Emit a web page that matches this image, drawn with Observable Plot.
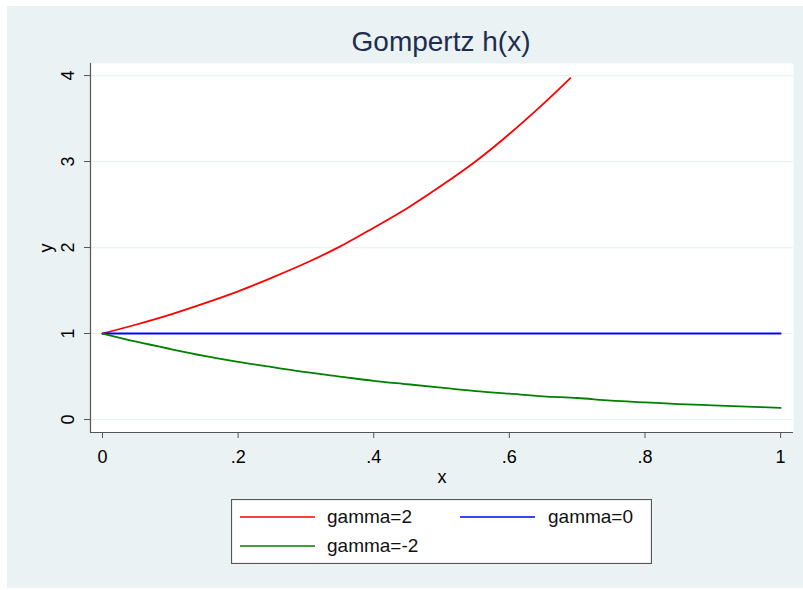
<!DOCTYPE html>
<html><head><meta charset="utf-8">
<script src="https://cdn.jsdelivr.net/npm/d3@7"></script>
<script src="https://cdn.jsdelivr.net/npm/@observablehq/plot@0.6"></script>
<style>
body{margin:0;width:803px;height:590px;background:#fff;position:relative;font-family:"Liberation Sans",Arial,sans-serif;overflow:hidden}
#bg{position:absolute;left:7px;top:6px;width:796px;height:582px;background:#eaf2f3}
#title{position:absolute;left:0;top:25px;width:882px;text-align:center;font-size:28px;color:#1e2d4e;line-height:34px}
#chart{position:absolute;left:0;top:0}
#legend{position:absolute;left:231px;top:499px}
</style></head>
<body>
<div id="bg"></div>
<div id="chart"></div>
<div id="title">Gompertz h(x)</div>
<div id="legend"></div>
<script>
// Data
const seriesNames = ["gamma=2", "gamma=0", "gamma=-2"];
const seriesColors = ["#ff0000", "#0000ff", "#008000"];
const xRed = [0, 0.05, 0.1, 0.15, 0.2, 0.25, 0.3, 0.35, 0.4, 0.45, 0.5, 0.55, 0.6, 0.65, 0.69];
const yRed = [1, 1.105, 1.22, 1.35, 1.49, 1.65, 1.82, 2.01, 2.23, 2.46, 2.72, 3.0, 3.32, 3.67, 3.97];
const xBlue = [0, 1];
const yBlue = [1, 1];
const xGreen = [0, 0.05, 0.1, 0.15, 0.2, 0.25, 0.3, 0.35, 0.4, 0.45, 0.5, 0.55, 0.6, 0.65, 0.7, 0.75, 0.8, 0.85, 0.9, 0.95, 1];
const yGreen = [1, 0.905, 0.82, 0.74, 0.67, 0.61, 0.55, 0.5, 0.45, 0.41, 0.37, 0.33, 0.3, 0.27, 0.25, 0.22, 0.2, 0.18, 0.165, 0.15, 0.135];
const xTicks = [0, 0.2, 0.4, 0.6, 0.8, 1];
const yTicks = [0, 1, 2, 3, 4];
const xDomain = [-0.0177, 1.019];
const yDomain = [-0.151, 4.14];

const rows = [
  ...xRed.map((x, i) => ({x, y: yRed[i], s: seriesNames[0]})),
  ...xBlue.map((x, i) => ({x, y: yBlue[i], s: seriesNames[1]})),
  ...xGreen.map((x, i) => ({x, y: yGreen[i], s: seriesNames[2]}))
];
const fmt = d => d === 0 ? "0" : d === 1 ? "1" : String(d).replace(/^0\./, ".");

const plot = Plot.plot({
  width: 803, height: 500,
  marginLeft: 90, marginRight: 10, marginTop: 63, marginBottom: 68,
  style: {background: "transparent", fontFamily: "Liberation Sans, Arial, sans-serif", fontSize: "18px", color: "#000"},
  x: {domain: xDomain},
  y: {domain: yDomain},
  color: {domain: seriesNames, range: seriesColors},
  marks: [
    Plot.frame({fill: "white", stroke: "none"}),
    Plot.gridY(yTicks, {stroke: "#eaf2f3", strokeOpacity: 1, strokeWidth: 1.2}),
    Plot.ruleX([xDomain[0]], {stroke: "#555", strokeWidth: 1.2}),
    Plot.ruleY([yDomain[0]], {stroke: "#555", strokeWidth: 1.2}),
    Plot.axisY(yTicks, {tickFormat: fmt, tickSize: 6, tickRotate: -90, tickPadding: 11, stroke: "#555", label: "y", labelAnchor: "center", labelArrow: "none", labelOffset: 51, fontSize: 18}),
    Plot.axisX(xTicks, {tickFormat: fmt, tickSize: 6, tickPadding: 12, stroke: "#555", label: "x", labelAnchor: "center", labelArrow: "none", labelOffset: 50, fontSize: 18}),
    Plot.line(rows, {x: "x", y: "y", z: "s", stroke: "s", strokeWidth: 1.8, curve: "catmull-rom"})
  ]
});
document.getElementById("chart").appendChild(plot);

// Legend
const lw = 421, lh = 65;
const svg = d3.select("#legend").append("svg").attr("width", lw).attr("height", lh);
svg.append("rect").attr("x", 0.5).attr("y", 0.5).attr("width", lw - 1).attr("height", lh - 1)
  .attr("fill", "white").attr("stroke", "#555").attr("stroke-width", 1.2);
const items = [
  {name: seriesNames[0], color: seriesColors[0], lx: 9, tx: 96, y: 18},
  {name: seriesNames[1], color: seriesColors[1], lx: 229, tx: 317, y: 18},
  {name: seriesNames[2], color: seriesColors[2], lx: 9, tx: 96, y: 47}
];
items.forEach(it => {
  svg.append("line").attr("x1", it.lx).attr("x2", it.lx + 75).attr("y1", it.y).attr("y2", it.y)
    .attr("stroke", it.color).attr("stroke-width", 1.6);
  svg.append("text").attr("x", it.tx).attr("y", it.y + 6).text(it.name)
    .attr("font-size", 19).attr("font-family", "Liberation Sans, Arial, sans-serif").attr("fill", "#111");
});
</script>
</body></html>
